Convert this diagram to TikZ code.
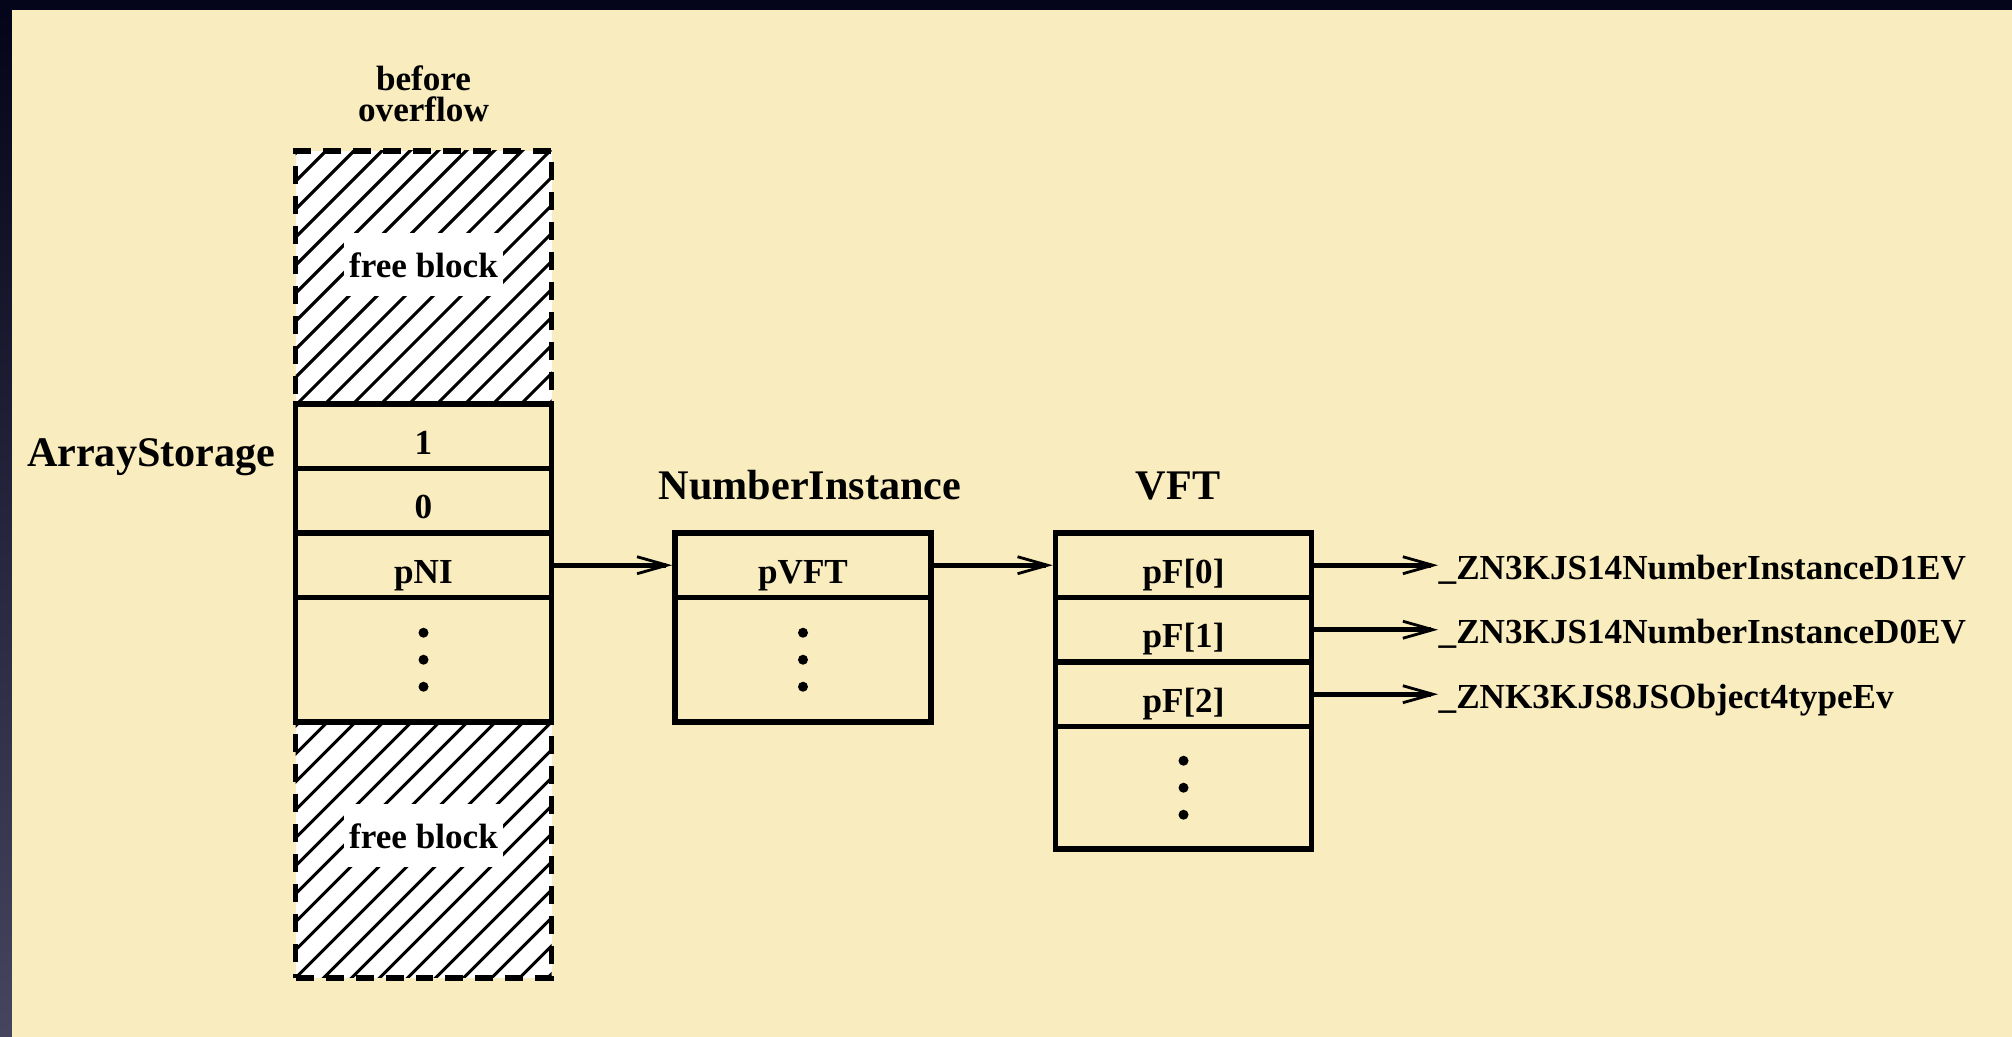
\documentclass[tikz,border=0pt]{standalone}
\usepackage{fontspec}
\setmainfont{Liberation Serif}
\usepackage{tikz}
\usetikzlibrary{arrows.meta, positioning}
\definecolor{slidebeige}{HTML}{F9ECBE}
\definecolor{framenavy}{HTML}{04041A}
\definecolor{framegrey}{HTML}{45455F}

\begin{document}
\begin{tikzpicture}[
  cell/.style={draw, line width=1.6pt, minimum width=2.56cm, minimum height=0.645cm,
               inner sep=0pt, text height=0.36cm, text depth=0cm,
               font=\fontsize{10}{12}\selectfont\bfseries},
  dotcell/.style={cell, path picture={\foreach \d in {-0.27,0,0.27}
               \fill ([yshift=\d cm]path picture bounding box.center) circle (0.05);}},
  freeblk/.style={draw, dash pattern=on 0.18cm off 0.12cm, line width=1.6pt, fill=white,
               minimum width=2.56cm, inner sep=0pt,
               path picture={\foreach \k in {-10,...,10}
               \draw[solid, line width=0.9pt] ([xshift=\k*0.28cm]path picture bounding box.center) ++(-1.5,-1.5) -- ++(3,3);}},
  freelabel/.style={fill=white, inner xsep=0.055cm, inner ysep=0pt, minimum height=0.63cm,
               font=\fontsize{10}{12}\selectfont\bfseries},
  title/.style={inner sep=0pt, font=\fontsize{12}{14}\selectfont\bfseries},
  symbol/.style={anchor=base west, inner sep=0pt, font=\fontsize{10}{12}\selectfont\bfseries},
  arrow/.style={-{Straight Barb[length=0.3cm, width=0.17cm, line width=0.8pt]}, line width=1.4pt}
]
  \useasboundingbox (0,0) rectangle (20.12,10.37);
  % Slide background
  \fill[slidebeige] (0.12,0) rectangle (20.12,10.27);
  \fill[framenavy] (0,10.27) rectangle (20.12,10.37);
  \shade[top color=framenavy, bottom color=framegrey] (0,0) rectangle (0.12,10.27);

  % Free blocks
  \node[freeblk, minimum height=2.53cm] (freetop) at (4.235, 7.595) {};
  \node[freeblk, minimum height=2.56cm] (freebot) at (4.235, 1.87) {};
  \node[freelabel] (ftlabel) at (4.235, 7.72) {free block};
  \node[freelabel] (fblabel) at (4.235, 2.01) {free block};
  \node[inner sep=0pt, align=center, font=\fontsize{10}{8.8}\selectfont\bfseries] (before) at (4.235, 9.43) {before\\overflow};

  % ArrayStorage
  \node[cell] (one) at (4.235, 6.0075) {1};
  \node[cell] (zero) at (4.235, 5.3625) {0};
  \node[cell] (pni) at (4.235, 4.7175) {pNI};
  \node[dotcell, minimum height=1.245cm] (adots) at (4.235, 3.7725) {};
  \node[title, anchor=base east] (astitle) at (2.76, 5.70) {ArrayStorage};

  % NumberInstance
  \node[cell] (pvft) at (8.03, 4.7175) {pVFT};
  \node[dotcell, minimum height=1.245cm] (ndots) at (8.03, 3.7725) {};
  \node[title, anchor=base] (nititle) at (8.10, 5.37) {NumberInstance};

  % VFT
  \node[cell] (pf0) at (11.835, 4.7175) {pF[0]};
  \node[cell] (pf1) at (11.835, 4.0725) {pF[1]};
  \node[cell] (pf2) at (11.835, 3.4275) {pF[2]};
  \node[dotcell, minimum height=1.225cm] (vdots) at (11.835, 2.4925) {};
  \node[title, anchor=base] (vfttitle) at (11.78, 5.37) {VFT};

  % Symbols
  \node[symbol] (sym0) at (14.38, 4.575) {\_ZN3KJS14NumberInstanceD1EV};
  \node[symbol] (sym1) at (14.38, 3.93) {\_ZN3KJS14NumberInstanceD0EV};
  \node[symbol] (sym2) at (14.38, 3.285) {\_ZNK3KJS8JSObject4typeEv};

  % Arrows
  \draw[arrow] (pni) -- (pvft);
  \draw[arrow] (pvft) -- (pf0);
  \draw[arrow] (pf0) -- (pf0 -| sym0.west);
  \draw[arrow] (pf1) -- (pf1 -| sym1.west);
  \draw[arrow] (pf2) -- (pf2 -| sym2.west);
\end{tikzpicture}
\end{document}
